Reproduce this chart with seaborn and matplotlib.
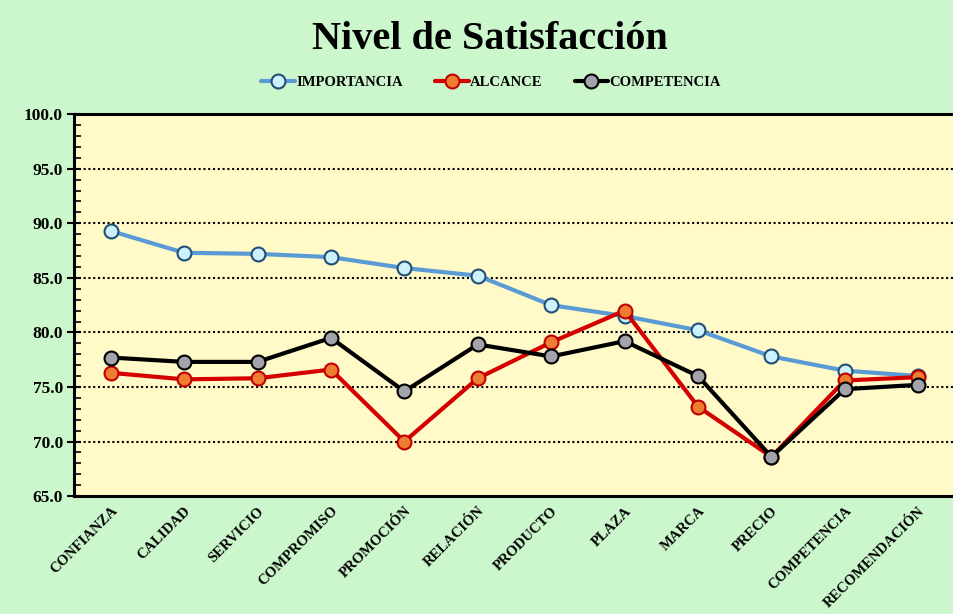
import matplotlib
matplotlib.use("Agg")
import matplotlib.pyplot as plt
from matplotlib.ticker import MultipleLocator, FormatStrFormatter
import seaborn as sns
import pandas as pd

categorias = ["CONFIANZA", "CALIDAD", "SERVICIO", "COMPROMISO", "PROMOCIÓN",
              "RELACIÓN", "PRODUCTO", "PLAZA", "MARCA", "PRECIO",
              "COMPETENCIA", "RECOMENDACIÓN"]
importancia = [89.3, 87.3, 87.2, 86.9, 85.9, 85.2, 82.5, 81.5, 80.2, 77.8, 76.5, 76.0]
alcance = [76.3, 75.7, 75.8, 76.6, 70.0, 75.8, 79.1, 82.0, 73.2, 68.6, 75.6, 75.9]
competencia = [77.7, 77.3, 77.3, 79.5, 74.6, 78.9, 77.8, 79.2, 76.0, 68.6, 74.8, 75.2]

df = pd.DataFrame({
    "categoria": categorias * 3,
    "valor": importancia + alcance + competencia,
    "serie": ["IMPORTANCIA"] * 12 + ["ALCANCE"] * 12 + ["COMPETENCIA"] * 12,
})

sns.set_theme(style="white")
plt.rcParams["font.family"] = ["Liberation Serif", "DejaVu Serif"]
plt.rcParams["font.weight"] = "bold"
plt.rcParams["text.color"] = "black"
plt.rcParams["axes.labelcolor"] = "black"
plt.rcParams["xtick.color"] = "black"
plt.rcParams["ytick.color"] = "black"

fig = plt.figure(figsize=(9.54, 6.14), dpi=100)
fig.patch.set_facecolor("#ccf7cc")
ax = fig.add_axes([0.0776, 0.192, 0.9234, 0.622])
ax.set_facecolor("#fffac8")

estilos = {
    "IMPORTANCIA": dict(color="#5b9bd5", mfc="#cdf1fb", mec="#1f4e79"),
    "ALCANCE": dict(color="#d40000", mfc="#ef7d31", mec="#c00000"),
    "COMPETENCIA": dict(color="#000000", mfc="#a3a3ab", mec="#000000"),
}

x_pos = {c: i for i, c in enumerate(categorias)}
df["x"] = df["categoria"].map(x_pos)

for nombre, st in estilos.items():
    sub = df[df["serie"] == nombre]
    sns.lineplot(data=sub, x="x", y="valor", ax=ax, sort=False,
                 color=st["color"], linewidth=3.0, marker="o",
                 markersize=10, markerfacecolor=st["mfc"],
                 markeredgecolor=st["mec"], markeredgewidth=1.5,
                 label=nombre, zorder=3)

ax.set_xlim(-0.5, 11.5)
ax.set_ylim(65, 100)
ax.yaxis.set_major_locator(MultipleLocator(5))
ax.yaxis.set_minor_locator(MultipleLocator(1))
ax.yaxis.set_major_formatter(FormatStrFormatter("%.1f"))
ax.tick_params(axis="y", which="major", direction="inout", length=10, width=1.5,
               labelsize=12.5, pad=3, left=True, colors="black")
ax.tick_params(axis="y", which="minor", direction="in", length=5, width=1.2,
               left=True, colors="black")
for lbl in ax.get_yticklabels():
    lbl.set_fontweight("bold")

ax.set_xticks(range(len(categorias)))
ax.set_xticklabels(categorias, rotation=45, ha="right", rotation_mode="anchor",
                   fontsize=10.5, fontweight="bold", color="black")
ax.tick_params(axis="x", length=0, pad=6)

for y in [70, 75, 80, 85, 90, 95]:
    ax.axhline(y, color="black", linestyle=(0, (1, 1.3)), linewidth=1.5, zorder=1)

for lado in ["left", "bottom", "top"]:
    ax.spines[lado].set_visible(True)
    ax.spines[lado].set_color("black")
    ax.spines[lado].set_linewidth(2.2)
ax.spines["right"].set_visible(False)

ax.set_xlabel("")
ax.set_ylabel("")

leg = ax.legend(loc="center", bbox_to_anchor=(0.515, 0.865),
                bbox_transform=fig.transFigure, ncol=3, frameon=False,
                handlelength=2.3, columnspacing=2.2, handletextpad=0.1,
                prop={"family": "Liberation Serif", "weight": "bold", "size": 10.5})
for t in leg.get_texts():
    t.set_color("black")

fig.text(0.513, 0.935, "Nivel de Satisfacción", ha="center", va="center",
         fontsize=29, fontweight="bold", family="Liberation Serif", color="black")

fig.savefig("out.png", dpi=100, facecolor=fig.get_facecolor())
